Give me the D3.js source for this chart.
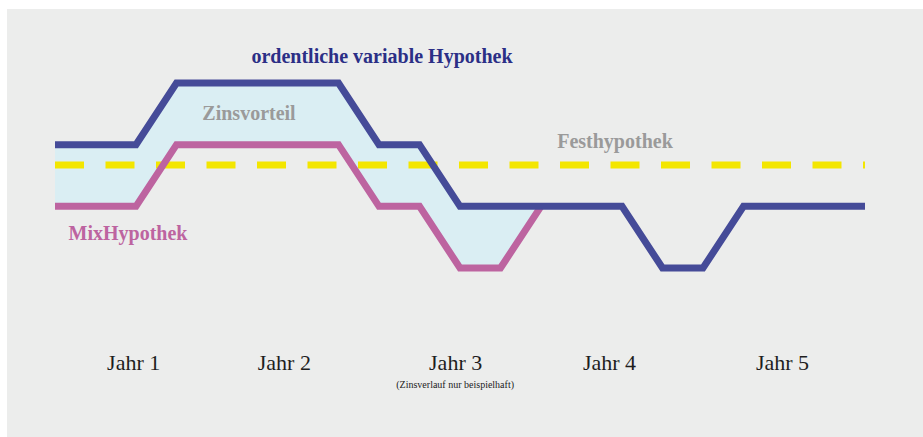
<!DOCTYPE html>
<html>
<head>
<meta charset="utf-8">
<script src="https://cdn.jsdelivr.net/npm/d3@7"></script>
<style>
  body { margin: 0; background: #ffffff; }
  svg text { font-family: "Liberation Serif", "DejaVu Serif", serif; }
</style>
</head>
<body>
<script>
const width = 923,
    height = 437;

// x in Zeiteinheiten (0..20), y = Zinsniveau
const variabel = [[0, 3], [2, 3], [3, 4], [7, 4], [8, 3], [9, 3], [10, 2], [14, 2], [15, 1], [16, 1], [17, 2], [20, 2]];
const mix = [[0, 2], [2, 2], [3, 3], [7, 3], [8, 2], [9, 2], [10, 1], [11, 1], [12, 2]];
const festZins = 2.67;
const festRange = [0, 20];
const jahre = ["Jahr 1", "Jahr 2", "Jahr 3", "Jahr 4", "Jahr 5"];
const jahrPos = [1.93, 5.65, 9.88, 13.68, 17.95];

const svg = d3.select("body").append("svg")
    .attr("width", width)
    .attr("height", height);

svg.append("rect")
    .attr("x", 7)
    .attr("y", 9)
    .attr("width", width - 7)
    .attr("height", height - 9)
    .style("fill", "#ecedec");

const x = d3.scaleLinear().domain([0, 20]).range([55, 865]);
const y = d3.scaleLinear().domain([1, 4]).range([268, 83]);

const line = d3.line()
    .x(d => x(d[0]))
    .y(d => y(d[1]));

// Fläche zwischen variabler und Mix-Hypothek (Zinsvorteil)
const endT = mix[mix.length - 1][0];
const oben = variabel.filter(d => d[0] < endT).concat([[endT, mix[mix.length - 1][1]]]);
const flaeche = oben.concat(mix.slice().reverse());
svg.append("path")
    .attr("d", line(flaeche) + "Z")
    .style("fill", "#daeef3")
    .style("stroke", "none");

// Festhypothek gestrichelt
svg.append("path")
    .attr("d", line(festRange.map(t => [t, festZins])))
    .style("fill", "none")
    .style("stroke", "#f3e600")
    .style("stroke-width", 7)
    .style("stroke-dasharray", "29,21.5");

svg.append("path")
    .attr("d", line(mix))
    .style("fill", "none")
    .style("stroke", "#bd64a0")
    .style("stroke-width", 7)
    .style("stroke-linejoin", "miter");

svg.append("path")
    .attr("d", line(variabel))
    .style("fill", "none")
    .style("stroke", "#454b98")
    .style("stroke-width", 7)
    .style("stroke-linejoin", "miter");

// Beschriftungen
function label(txt, cx, cy, color) {
  svg.append("text")
      .attr("x", cx)
      .attr("y", cy)
      .attr("text-anchor", "middle")
      .style("font-weight", "bold")
      .style("font-size", "20px")
      .style("fill", color)
      .text(txt);
}
label("ordentliche variable Hypothek", 382, 63, "#2b2f86");
label("Zinsvorteil", 249, 120, "#9a9a9a");
label("Festhypothek", 615, 148, "#9a9a9a");
label("MixHypothek", 128, 240, "#bd64a0");

const xAxis = svg.append("g")
    .attr("transform", "translate(0, 370)")
    .call(d3.axisBottom(x).tickValues(jahrPos).tickSize(0).tickFormat((d, i) => jahre[i]));
xAxis.select(".domain").remove();
xAxis.selectAll("text")
    .attr("dy", 0)
    .attr("y", 0)
    .style("font-family", "Liberation Serif, DejaVu Serif, serif")
    .style("font-size", "22px")
    .style("fill", "#1e1e1e");

svg.append("text")
    .attr("x", x(jahrPos[2]))
    .attr("y", 388)
    .attr("text-anchor", "middle")
    .style("font-size", "10px")
    .style("fill", "#222")
    .text("(Zinsverlauf nur  beispielhaft)");
</script>
</body>
</html>
